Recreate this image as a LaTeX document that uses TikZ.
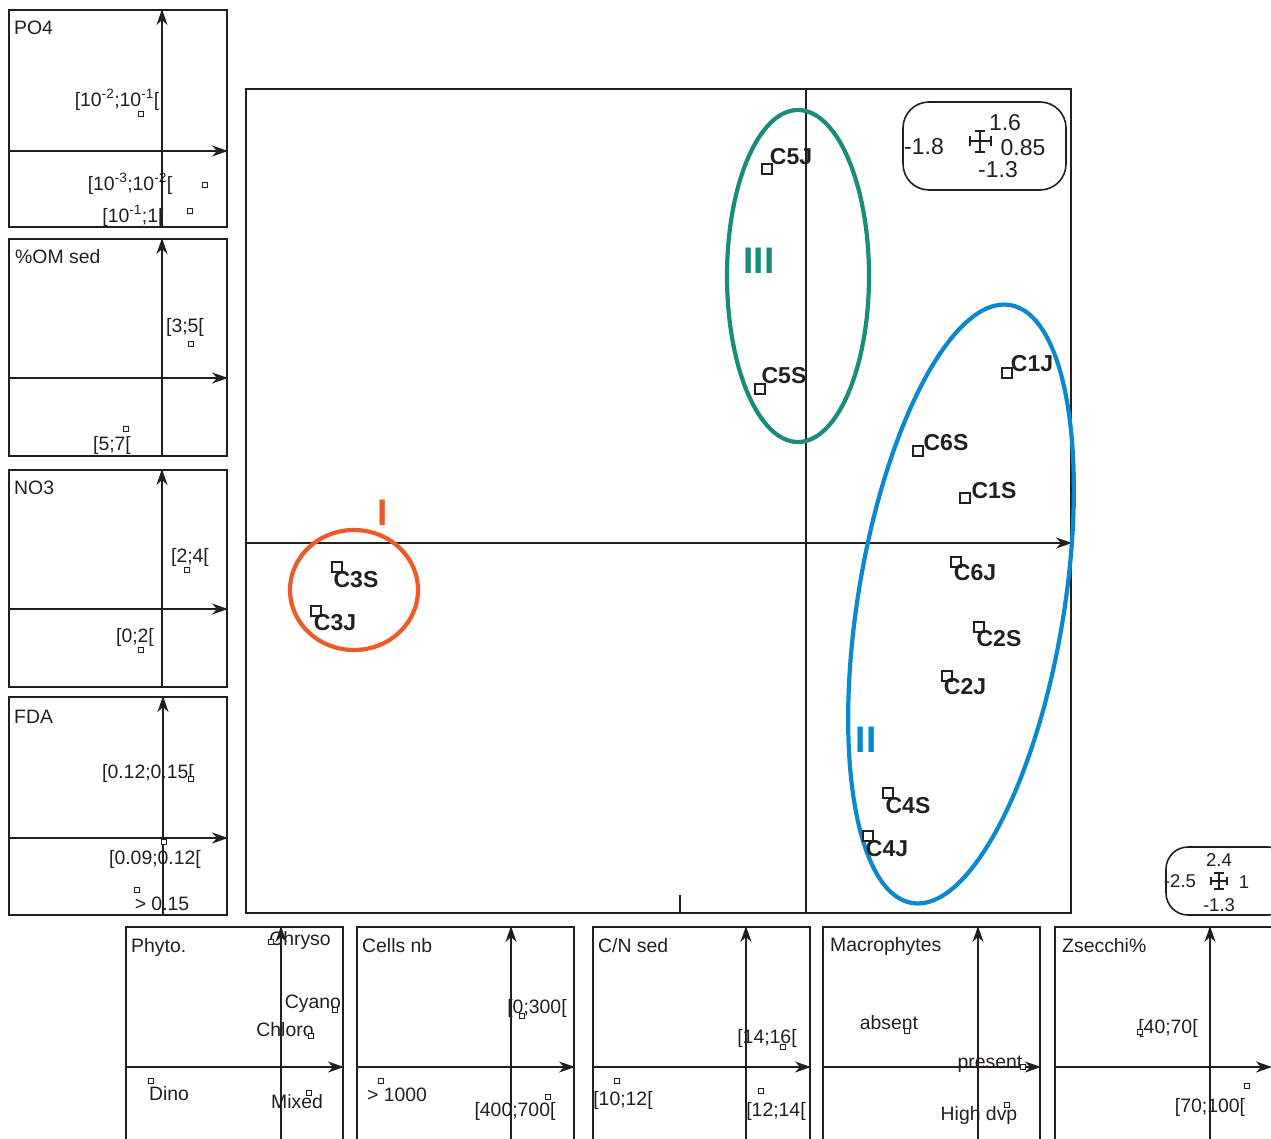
\documentclass[tikz,border=0pt]{standalone}
\usepackage{fontspec}
\setmainfont{Liberation Sans}
\usetikzlibrary{arrows.meta}
\definecolor{ink}{HTML}{231F20}
\definecolor{grpI}{HTML}{F05A28}
\definecolor{grpII}{HTML}{0A88D0}
\definecolor{grpIII}{HTML}{1A8C7C}
\tikzset{
  frame/.style={draw=ink,line width=1.6pt},
  ax/.style={draw=ink,line width=1.6pt,-{Stealth[length=16pt,width=11pt,inset=5pt]}},
  bigsq/.style={draw=ink,line width=1.2pt,minimum size=10pt,inner sep=0pt,fill=white},
  smsq/.style={draw=ink,line width=1.1pt,minimum size=5pt,inner sep=0pt,fill=white},
  ptl/.style={font=\fontsize{23}{26}\selectfont\bfseries,text=ink,inner sep=0pt},
  pl/.style={font=\fontsize{19.4}{22}\selectfont,text=ink,inner sep=0pt},
  ttl/.style={font=\fontsize{19.4}{22}\selectfont,text=ink,inner sep=0pt,anchor=west},
  sc/.style={font=\fontsize{23}{26}\selectfont,text=ink,inner sep=0pt},
  scs/.style={font=\fontsize{18.5}{21}\selectfont,text=ink,inner sep=0pt},
  grp/.style={line width=4.2pt},
  roman/.style={font=\fontsize{37}{40}\selectfont\bfseries,inner sep=0pt},
}
\begin{document}
\begin{tikzpicture}[x=1pt,y=-1pt]
\useasboundingbox (0,0) rectangle (1271,1139);
% ---------- main plot ----------
\draw[frame] (246,89) rectangle (1071,913);
\draw[frame] (806,913) -- (806,89);
\draw[ax] (246,543) -- (1072,543);
\draw[frame] (680,895) -- (680,913);
% groups
\draw[grp,grpIII] (798,276) ellipse [x radius=71,y radius=166];
\draw[grp,grpII] (961,604) [rotate around={-9.3:(961,604)}] ellipse [x radius=103,y radius=303];
\draw[grp,grpI] (354,590) ellipse [x radius=64,y radius=60];
\node[roman,text=grpIII] (lIII) at (759,261) {III};
\node[roman,text=grpII] (lII) at (866,740) {II};
\node[roman,text=grpI] (lI) at (383,513) {I};
% points
\node[bigsq] (pC5J) at (767,169) {}; \node[ptl] at (791,157) {C5J};
\node[bigsq] (pC5S) at (760,389) {}; \node[ptl] at (784,376) {C5S};
\node[bigsq] (pC1J) at (1007,373) {}; \node[ptl] at (1032,364) {C1J};
\node[bigsq] (pC6S) at (918,451) {}; \node[ptl] at (946,443) {C6S};
\node[bigsq] (pC1S) at (965,498) {}; \node[ptl] at (994,491) {C1S};
\node[bigsq] (pC6J) at (956,562) {}; \node[ptl] at (975,573) {C6J};
\node[bigsq] (pC2S) at (979,627) {}; \node[ptl] at (999,639) {C2S};
\node[bigsq] (pC2J) at (947,676) {}; \node[ptl] at (965,687) {C2J};
\node[bigsq] (pC4S) at (888,793) {}; \node[ptl] at (908,806) {C4S};
\node[bigsq] (pC4J) at (868,836) {}; \node[ptl] at (887,849) {C4J};
\node[bigsq] (pC3S) at (337,567) {}; \node[ptl] at (356,580) {C3S};
\node[bigsq] (pC3J) at (316,611) {}; \node[ptl] at (335,623) {C3J};
% scale box 1
\draw[frame,rounded corners=26pt] (903,102) rectangle (1066,190);
\node[sc] at (1005,123) {1.6};
\node[sc] at (924,147) {-1.8};
\node[sc] at (1023,148) {0.85};
\node[sc] at (998,170) {-1.3};
\draw[ink,line width=1.2pt] (980,131) -- (980,152) (975,131) -- (985,131) (975,152) -- (985,152)
  (970,141) -- (991,141) (970,136) -- (970,146) (991,136) -- (991,146);
% scale box 2
\draw[frame,rounded corners=22pt] (1166,847) rectangle (1290,915);
\node[scs] at (1219,860) {2.4};
\node[scs] at (1180,881) {-2.5};
\node[scs] at (1244,882) {1};
\node[scs] at (1219,905) {-1.3};
\draw[ink,line width=1.1pt] (1219,873) -- (1219,889) (1214,873) -- (1224,873) (1214,889) -- (1224,889)
  (1211,881) -- (1227,881) (1211,877) -- (1211,885) (1227,877) -- (1227,885);
% ---------- left panels ----------
% PO4
\draw[frame] (9,10) rectangle (227,227);
\draw[ax] (162,227) -- (162,9);
\draw[ax] (9,151) -- (228,151);
\node[ttl] at (14,28) {PO4};
\node[pl] at (117,100) {[10\textsuperscript{-2};10\textsuperscript{-1}[};
\node[smsq] at (141,114) {};
\node[pl] at (130,184) {[10\textsuperscript{-3};10\textsuperscript{-2}[};
\node[smsq] at (205,185) {};
\node[pl] at (133,216) {[10\textsuperscript{-1};1[};
\node[smsq] at (190,211) {};
% %OM sed
\draw[frame] (9,239) rectangle (227,456);
\draw[ax] (162,456) -- (162,238);
\draw[ax] (9,378) -- (228,378);
\node[ttl] at (15,257) {\%OM sed};
\node[pl] at (185,327) {[3;5[};
\node[smsq] at (191,344) {};
\node[pl] at (112,445) {[5;7[};
\node[smsq] at (126,429) {};
% NO3
\draw[frame] (9,470) rectangle (227,687);
\draw[ax] (162,687) -- (162,469);
\draw[ax] (9,609) -- (228,609);
\node[ttl] at (14,488) {NO3};
\node[pl] at (190,557) {[2;4[};
\node[smsq] at (187,570) {};
\node[pl] at (135,637) {[0;2[};
\node[smsq] at (141,650) {};
% FDA
\draw[frame] (9,697) rectangle (227,915);
\draw[ax] (163,915) -- (163,696);
\draw[ax] (9,838) -- (228,838);
\node[ttl] at (14,717) {FDA};
\node[pl] at (148,773) {[0.12;0.15[};
\node[smsq] at (191,779) {};
\node[pl] at (155,859) {[0.09;0.12[};
\node[smsq] at (164,842) {};
\node[pl] at (162,904) {> 0.15};
\node[smsq] at (137,890) {};
% ---------- bottom panels ----------
% Phyto
\draw[frame] (126,1145) -- (126,927) -- (343,927) -- (343,1145);
\draw[ax] (281,1145) -- (281,926);
\draw[ax] (126,1067) -- (344,1067);
\node[ttl] at (131,947) {Phyto.};
\node[pl] at (300,940) {Chryso};
\node[smsq] at (271,942) {};
\node[pl] at (313,1004) {Cyano};
\node[smsq] at (335,1010) {};
\node[pl] at (285,1030) {Chloro};
\node[smsq] at (311,1036) {};
\node[pl] at (169,1094) {Dino};
\node[smsq] at (151,1081) {};
\node[pl] at (297,1102) {Mixed};
\node[smsq] at (309,1093) {};
% Cells nb
\draw[frame] (357,1145) -- (357,927) -- (574,927) -- (574,1145);
\draw[ax] (511,1145) -- (511,926);
\draw[ax] (357,1067) -- (575,1067);
\node[ttl] at (362,946) {Cells nb};
\node[pl] at (537,1008) {[0;300[};
\node[smsq] at (522,1016) {};
\node[pl] at (397,1095) {> 1000};
\node[smsq] at (381,1081) {};
\node[pl] at (515,1111) {[400;700[};
\node[smsq] at (548,1097) {};
% C/N sed
\draw[frame] (593,1145) -- (593,927) -- (810,927) -- (810,1145);
\draw[ax] (746,1145) -- (746,926);
\draw[ax] (593,1067) -- (811,1067);
\node[ttl] at (598,946) {C/N sed};
\node[pl] at (767,1038) {[14;16[};
\node[smsq] at (783,1047) {};
\node[pl] at (623,1100) {[10;12[};
\node[smsq] at (617,1081) {};
\node[pl] at (776,1111) {[12;14[};
\node[smsq] at (761,1091) {};
% Macrophytes
\draw[frame] (823,1145) -- (823,927) -- (1040,927) -- (1040,1145);
\draw[ax] (978,1145) -- (978,926);
\draw[ax] (823,1067) -- (1041,1067);
\node[ttl] at (830,946) {Macrophytes};
\node[pl] at (889,1023) {absent};
\node[smsq] at (907,1031) {};
\node[pl] at (990,1064) {present};
\node[smsq] at (1023,1067) {};
\node[pl] at (979,1115) {High dvp};
\node[smsq] at (1007,1105) {};
% Zsecchi%
\draw[frame] (1055,1145) -- (1055,927) -- (1280,927);
\draw[ax] (1210,1145) -- (1210,926);
\draw[ax] (1055,1067) -- (1272,1067);
\node[ttl] at (1062,946) {Zsecchi\%};
\node[pl] at (1168,1028) {[40;70[};
\node[smsq] at (1140,1032) {};
\node[pl] at (1210,1107) {[70;100[};
\node[smsq] at (1247,1086) {};
\end{tikzpicture}
\end{document}
